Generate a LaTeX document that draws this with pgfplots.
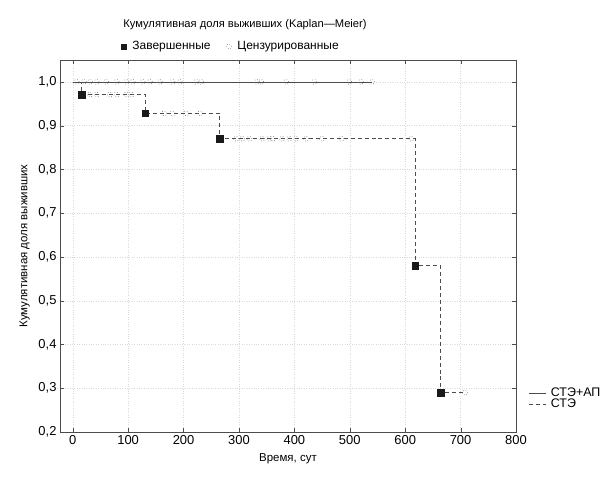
\documentclass[border=0pt]{standalone}
\usepackage{pgfplots}
\pgfplotsset{compat=1.18}
\usepackage{fontspec}
\setmainfont{Liberation Sans}
\begin{document}
\begin{tikzpicture}
\useasboundingbox (-60bp,-45bp) rectangle (551bp,432bp);
\begin{axis}[
    scale only axis,
    width=456bp, height=372bp,
    xmin=-23, xmax=800,
    ymin=0.2, ymax=1.05,
    xtick={0,100,...,800},
    ytick={0.2,0.3,...,1.01},
    yticklabel={\pgfmathprintnumber[fixed, fixed zerofill, precision=1, use comma]{\tick}},
    /pgf/number format/assume math mode=true,
    tick align=inside,
    tick style={black!70},
    axis line style={black!70},
    grid=major,
    major grid style={gray!30, dotted},
    font=\fontsize{13}{15}\selectfont,
    xlabel={Время, сут},
    xlabel style={yshift=-2pt, font=\fontsize{11.5}{13}\selectfont},
    ylabel={Кумулятивная доля выживших},
    ylabel style={yshift=2pt, font=\fontsize{11.5}{13}\selectfont},
    legend style={at={(1.02,0.13)}, anchor=north west, draw=none, fill=none,
        font=\fontsize{12.5}{14}\selectfont, row sep=-3pt,
        /tikz/every odd column/.append style={column sep=3pt}},
    legend cell align=left,
]
% censored, СТЭ+АП at 1.0
\addplot[only marks, mark=o, mark size=2.5pt, mark options={black!60, dotted, line width=0.6pt}, forget plot] coordinates {
    (7,1) (20,1) (31,1) (43,1) (60,1) (79,1) (97,1) (108,1) (126,1) (139,1)
    (157,1) (180,1) (193,1) (223,1) (232,1) (332,1) (340,1) (385,1) (436,1)
    (499,1) (520,1) (540,1)
};
% censored, СТЭ
\addplot[only marks, mark=o, mark size=2.5pt, mark options={black!60, dotted, line width=0.6pt}, forget plot] coordinates {
    (31,0.971) (43,0.971) (67,0.971) (79,0.971) (97,0.971) (106,0.971)
    (165,0.928) (180,0.928) (205,0.928) (230,0.928)
    (295,0.87) (306,0.87) (319,0.87) (342,0.87) (355,0.87) (361,0.87) (378,0.87)
    (391,0.87) (403,0.87) (421,0.87) (450,0.87) (485,0.87) (611,0.87)
    (708,0.29)
};
\addplot[const plot, no marks, black!70, semithick] coordinates {(0,1) (540,1)};
\addlegendentry{СТЭ+АП}
\addplot[const plot, no marks, black!70, semithick, dash pattern=on 4pt off 3pt] coordinates {
    (0,1) (16,0.971) (131,0.928) (265,0.87) (618,0.58) (664,0.29) (708,0.29)
};
\addlegendentry{СТЭ}
% events
\addplot[only marks, mark=square*, mark size=3.2pt, black!90, forget plot] coordinates {
    (16,0.971) (131,0.928) (265,0.87) (618,0.58) (664,0.29)
};
\end{axis}
\begin{axis}[
    scale only axis,
    width=456bp, height=372bp,
    hide axis,
    xmin=0, xmax=1, ymin=0, ymax=1,
    legend columns=2,
    legend style={at={(0.375,1.012)}, anchor=south, draw=none, fill=none,
        font=\fontsize{12}{14}\selectfont,
        /tikz/every odd column/.append style={column sep=4pt},
        /tikz/every even column/.append style={column sep=14pt}},
]
\addlegendimage{only marks, mark=square*, mark size=2.6pt, black!90}
\addlegendentry{Завершенные}
\addlegendimage{only marks, mark=o, mark size=2.5pt, mark options={black!60, dotted, line width=0.6pt}}
\addlegendentry{Цензурированные}
\end{axis}
\node[font=\fontsize{11.2}{13}\selectfont] at (185bp,407bp) {Кумулятивная доля выживших (Kaplan—Meier)};
\end{tikzpicture}
\end{document}
